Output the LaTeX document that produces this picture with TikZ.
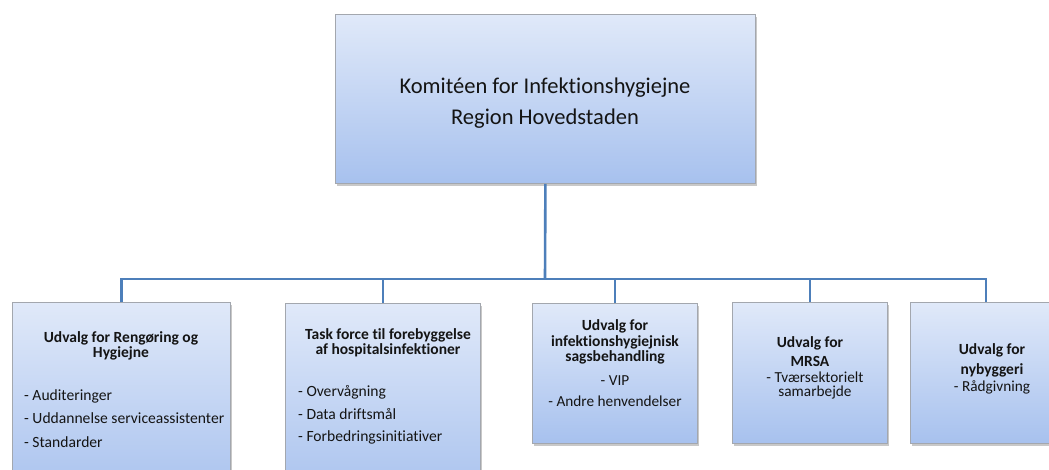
\documentclass[tikz,border=0pt]{standalone}
\usepackage{fontspec}
\setmainfont{Carlito}[Ligatures={NoCommon}]
\usetikzlibrary{shadows}
\definecolor{boxtop}{HTML}{E0E9F9}
\definecolor{boxbot}{HTML}{A7C1EE}
\definecolor{boxline}{HTML}{A3A7AE}
\definecolor{connc}{HTML}{4D7FBA}
\definecolor{txt}{HTML}{141414}
\tikzset{
  orgbox/.style={draw=boxline, line width=0.8pt, top color=boxtop, bottom color=boxbot,
    anchor=north west, inner sep=0pt,
    drop shadow={shadow xshift=2pt, shadow yshift=-2.5pt, opacity=0.3, fill=black!70}},
  connline/.style={draw=connc, line width=2.6pt, line join=miter},
  toptext/.style={font=\fontsize{22.5}{31}\selectfont, align=center, text=txt, inner sep=0pt},
  head/.style={font=\fontsize{15.5}{15.5}\selectfont\bfseries, align=center, text=txt, inner sep=0pt},
  listl/.style={font=\fontsize{15.6}{23.4}\selectfont, align=left, text=txt, inner sep=0pt, anchor=west},
  listc/.style={font=\fontsize{15.3}{21}\selectfont, align=center, text=txt, inner sep=0pt},
}
\begin{document}
\begin{tikzpicture}[x=1pt,y=-1pt]
\useasboundingbox (0,0) rectangle (1049,470);
\clip (0,0) rectangle (1049,470);
\fill[white] (0,0) rectangle (1049,470);

% boxes
\node[orgbox, minimum width=420pt, minimum height=169pt] (top) at (335,14) {};
\node[orgbox, minimum width=218pt, minimum height=200pt] (b1) at (12,302) {};
\node[orgbox, minimum width=195pt, minimum height=200pt] (b2) at (285,303) {};
\node[orgbox, minimum width=165pt, minimum height=140pt] (b3) at (532,303) {};
\node[orgbox, minimum width=155pt, minimum height=141pt] (b4) at (732,302) {};
\node[orgbox, minimum width=160pt, minimum height=141pt] (b5) at (910,302) {};

% connectors
\coordinate (bus) at (545,279);
\draw[connline] (top.south) -- (bus);
\draw[connline] (b1.north) |- (bus);
\draw[connline] (b2.north) |- (bus);
\draw[connline] (b3.north) |- (bus);
\draw[connline] (b4.north) |- (bus);
\draw[connline] (b5.north -| 986,0) |- (bus);

% texts
\node[toptext] (toptxt) at (545,103) {Komitéen for Infektionshygiejne\\Region Hovedstaden};

\node[head] (h1) at (121,346) {Udvalg for Rengøring og\\Hygiejne};
\node[listl] (l1) at (24,418.5) {- Auditeringer\\- Uddannelse serviceassistenter\\- Standarder};

\node[head] (h2) at (388,343) {Task force til forebyggelse\\af hospitalsinfektioner};
\node[listl, font=\fontsize{15.6}{22.6}\selectfont] (l2) at (298,415) {- Overvågning\\- Data driftsmål\\- Forbedringsinitiativer};

\node[head] (h3) at (615,342) {Udvalg for\\infektionshygiejnisk\\sagsbehandling};
\node[listc] (l3) at (615,391) {- VIP\\- Andre henvendelser};

\node[head, font=\fontsize{15.5}{19}\selectfont\bfseries] (h4) at (810,352) {Udvalg for\\MRSA};
\node[listc, font=\fontsize{15.3}{14.8}\selectfont] (l4) at (815,385.5) {- Tværsektorielt\\samarbejde};

\node[head, font=\fontsize{15.5}{20}\selectfont\bfseries] (h5) at (992,360.5) {Udvalg for\\nybyggeri};
\node[listc] (l5) at (992,387.5) {- Rådgivning};
\end{tikzpicture}
\end{document}
